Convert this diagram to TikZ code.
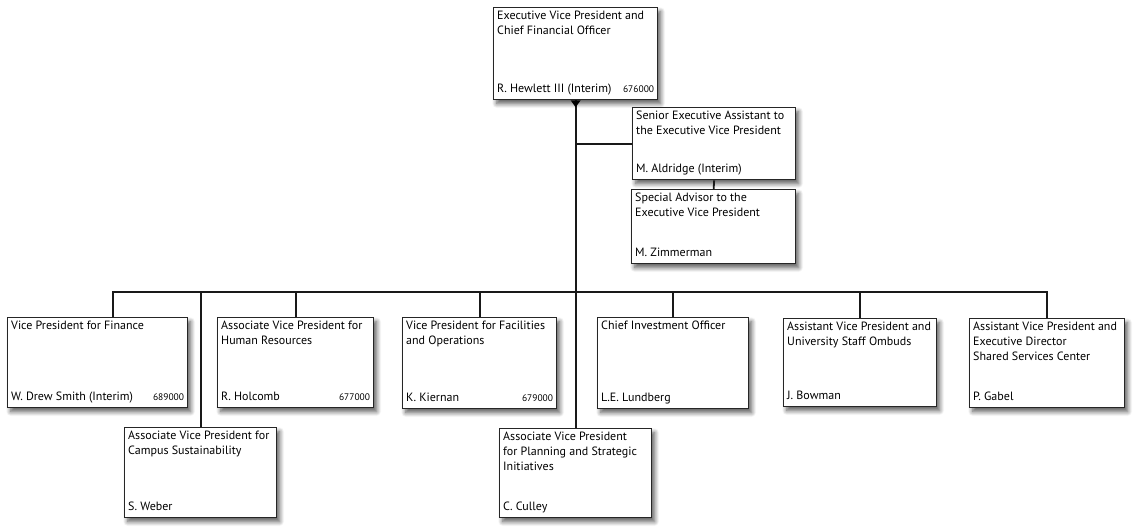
\documentclass[tikz,border=0pt]{standalone}
\usepackage{fontspec}
\setmainfont{PT Sans}
\usetikzlibrary{shadows.blur,calc}
\tikzset{
 orgbox/.style={draw=black!85, line width=1.3pt, fill=white, rectangle, inner sep=0pt, anchor=north west,
   blur shadow={shadow xshift=3pt, shadow yshift=-4pt, shadow blur steps=8, shadow blur radius=4.5pt, shadow opacity=65}},
 ttl/.style={anchor=north west, inner sep=0pt, align=left, font=\fontsize{12}{15}\selectfont},
 nm/.style={anchor=base west, inner sep=0pt, font=\fontsize{12}{15}\selectfont},
 num/.style={anchor=base east, inner sep=0pt, font=\fontsize{9.5}{11}\selectfont},
 conn/.style={line width=1.8pt, draw=black!90},
}
% #1 name, #2 x, #3 y, #4 w, #5 h, #6 title, #7 person, #8 number
\newcommand{\OB}[8]{%
  \node[orgbox, minimum width=#4pt, minimum height=#5pt] (#1) at (#2,#3) {};
  \node[ttl] (#1t) at ([xshift=4pt,yshift=-4pt]#1.north west) {#6};
  \node[nm] (#1n) at ([xshift=4pt,yshift=8pt]#1.south west) {#7};
  \node[num] (#1x) at ([xshift=-4pt,yshift=8pt]#1.south east) {#8};
}
\begin{document}
\begin{tikzpicture}[x=1pt,y=-1pt]
\useasboundingbox (0,0) rectangle (1136,528);
\OB{top}{493}{7}{164}{92}{Executive Vice President and\\Chief Financial Officer}{R. Hewlett III (Interim)}{676000}
\OB{sea}{632}{107}{163}{72}{Senior Executive Assistant to\\the Executive Vice President}{M. Aldridge (Interim)}{}
\OB{spa}{631}{189}{164}{74}{Special Advisor to the\\Executive Vice President}{M. Zimmerman}{}
\OB{fin}{7}{317}{180}{90}{Vice President for Finance}{W. Drew Smith (Interim)}{689000}
\OB{hr}{217}{317}{156}{90}{Associate Vice President for\\Human Resources}{R. Holcomb}{677000}
\OB{cs}{124}{427}{152}{90}{Associate Vice President for\\Campus Sustainability}{S. Weber}{}
\OB{fac}{402}{317}{154}{91}{Vice President for Facilities\\and Operations}{K. Kiernan}{679000}
\OB{cio}{597}{317}{151}{91}{Chief Investment Officer}{L.E. Lundberg}{}
\OB{cul}{499}{428}{152}{89}{Associate Vice President\\for Planning and Strategic\\Initiatives}{C. Culley}{}
\OB{bow}{783}{318}{153}{88}{Assistant Vice President and\\University Staff Ombuds}{J. Bowman}{}
\OB{gab}{969}{318}{155}{89}{Assistant Vice President and\\Executive Director\\Shared Services Center}{P. Gabel}{}
\coordinate (bus) at (0,292);
\coordinate (finc) at ([xshift=15pt]fin.north);
% connectors
\draw[conn] (top.south) -- (cul.north);
\fill (top.south) ++(-5,0) -- ++(10,0) -- ++(-5,7) -- cycle;
\draw[conn] (sea.west) -- (top.south |- sea.west);
\draw[conn] (sea.south) -- (spa.north);
\draw[conn] (finc) |- (gab.north |- bus) -- (gab.north);
\draw[conn] (hr.north) -- (hr.north |- bus);
\draw[conn] (cs.north) -- (cs.north |- bus);
\draw[conn] (fac.north) -- (fac.north |- bus);
\draw[conn] (cio.north) -- (cio.north |- bus);
\draw[conn] (bow.north) -- (bow.north |- bus);
\end{tikzpicture}
\end{document}
